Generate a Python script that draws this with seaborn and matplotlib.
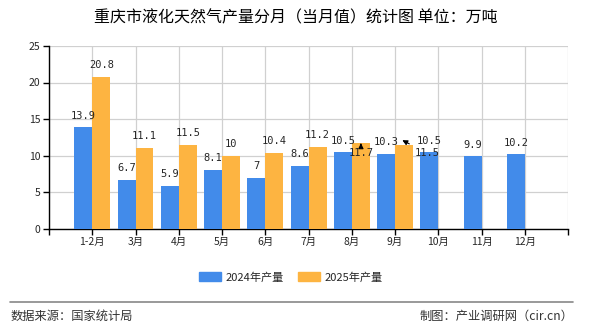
import matplotlib
matplotlib.use("Agg")
import matplotlib.pyplot as plt
import seaborn as sns
import pandas as pd

months = ["1-2月", "3月", "4月", "5月", "6月", "7月", "8月", "9月", "10月", "11月", "12月"]
v2024 = [13.9, 6.7, 5.9, 8.1, 7, 8.6, 10.5, 10.3, 10.5, 9.9, 10.2]
v2025 = [20.8, 11.1, 11.5, 10, 10.4, 11.2, 11.7, 11.5, None, None, None]
series = ["2024年产量", "2025年产量"]
colors = ["#428BEA", "#FDB441"]

rows = []
for m, a, b in zip(months, v2024, v2025):
    rows.append({"月份": m, "系列": series[0], "值": a})
    rows.append({"月份": m, "系列": series[1], "值": b})
df = pd.DataFrame(rows)

sns.set_theme(style="white")
plt.rcParams['font.family'] = ['Noto Sans CJK SC', 'DejaVu Sans']

fig = plt.figure(figsize=(5.9, 3.3), dpi=100)
ax = fig.add_axes([0.083, 0.306, 0.88, 0.555])
sns.barplot(data=df, x="月份", y="值", hue="系列", palette=colors, width=0.83, gap=0,
            saturation=1, linewidth=0, edgecolor="none", ax=ax, legend=True, zorder=3)

n = len(months)
ax.set_xlim(-1, n)
ax.set_ylim(0, 25)
ax.set_yticks([0, 5, 10, 15, 20, 25])
ax.set_xticks(list(range(n)))
ax.set_xticklabels(months)
ax.set_xticks([-1, n], minor=True)
ax.set_xlabel("")
ax.set_ylabel("")
ax.grid(True, which="both", color="#d0d0d0", linewidth=0.9, zorder=0)
ax.set_axisbelow(True)
for s in ["top", "right"]:
    ax.spines[s].set_visible(False)
for s in ["left", "bottom"]:
    ax.spines[s].set_color("black")
    ax.spines[s].set_linewidth(1)
ax.tick_params(axis="both", which="both", length=4, width=1, color="black",
               labelsize=7.5, pad=2, direction="out", bottom=True, left=True)

off = 0.21
mono = ['DejaVu Sans Mono']
for i, (a, b) in enumerate(zip(v2024, v2025)):
    ax.text(i - off, a + 0.9, f"{a:g}", ha="center", va="bottom", fontsize=7.5, family=mono, zorder=5)
    if b is None:
        continue
    if i == 6:
        ax.annotate(f"{b:g}", xy=(i + off, b), xytext=(i + off, b - 0.6), ha="center", va="top",
                    fontsize=7.5, family=mono, zorder=5,
                    arrowprops=dict(arrowstyle="-|>", color="black", lw=0.8))
    elif i == 7:
        ax.annotate(f"{b:g}", xy=(i + off - 0.1, b + 0.8), xytext=(i + 0.75, b - 0.5), ha="center", va="top",
                    fontsize=7.5, family=mono, zorder=5,
                    arrowprops=dict(arrowstyle="-|>", color="black", lw=0.8))
    else:
        ax.text(i + off, b + 0.9, f"{b:g}", ha="center", va="bottom", fontsize=7.5, family=mono, zorder=5)

ax.legend_.remove()
handles = [plt.Rectangle((0, 0), 1, 1, color=c) for c in colors]
fig.legend(handles, series, loc="center", bbox_to_anchor=(0.493, 0.16), ncol=2, frameon=False,
           fontsize=8, handlelength=2.0, handleheight=0.9, columnspacing=1.3, handletextpad=0.4)

fig.text(0.502, 0.945, "重庆市液化天然气产量分月（当月值）统计图 单位：万吨", ha="center", va="center",
         fontsize=11.5, color="black")
fig.add_artist(plt.Line2D([0.017, 0.972], [0.085, 0.085], color="#888888", linewidth=1.2))
fig.text(0.017, 0.042, "数据来源：国家统计局", ha="left", va="center", fontsize=8.8, color="#333333")
fig.text(0.972, 0.042, "制图：产业调研网（cir.cn）", ha="right", va="center", fontsize=8.8, color="#333333")

fig.savefig("out.png", dpi=100)
